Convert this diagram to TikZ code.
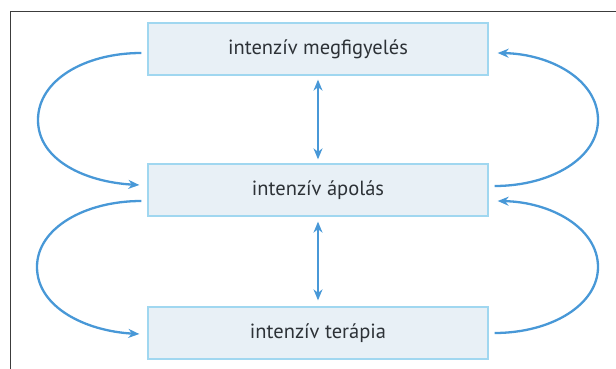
\documentclass[tikz,border=0pt]{standalone}
\usepackage{fontspec}
\setmainfont{PT Sans}
\usetikzlibrary{arrows.meta,calc}
\definecolor{boxfill}{RGB}{232,240,246}
\definecolor{boxline}{RGB}{160,215,240}
\definecolor{arrowblue}{RGB}{72,152,215}
\definecolor{textgrey}{RGB}{45,50,55}
\definecolor{framegrey}{RGB}{60,60,60}
\tikzset{
  stagebox/.style={draw=boxline, line width=1.3pt, fill=boxfill,
    minimum width=340pt, minimum height=52pt, inner sep=0pt,
    text=textgrey, font=\fontsize{20.5}{24}\selectfont},
  flow/.style={draw=arrowblue, line width=2.3pt,
    -{Stealth[length=11pt,width=9pt]}},
  biflow/.style={draw=arrowblue, line width=2.3pt,
    {Stealth[length=11pt,width=9pt]}-{Stealth[length=11pt,width=9pt]}}
}
\begin{document}
\begin{tikzpicture}[x=1pt,y=-1pt]
\useasboundingbox (0,0) rectangle (616,369);
\draw[framegrey, line width=1.5pt] (10.5,369) -- (10.5,11.7) -- (616,11.7);
\node[stagebox] (obs) at (318,49) {intenzív megfigyelés};
\node[stagebox] (care) at (318,190) {intenzív ápolás};
\node[stagebox] (ther) at (318,333) {intenzív terápia};
% vertical double arrows
\draw[biflow] ([yshift=-4pt]obs.south) -- ([yshift=4pt]care.north);
\draw[biflow] ([yshift=-5pt]care.south) -- ([yshift=6pt]ther.north);
% left loops
\draw[flow] ($(obs.west)+(-6,4)$) .. controls (85,53) and (38,80) .. (38,120)
  .. controls (38,160) and (85,182) .. ($(care.west)+(-8,-5)$);
\draw[flow] ($(care.west)+(-6,11)$) .. controls (85,201) and (37,228) .. (37,267)
  .. controls (37,307) and (85,331) .. ($(ther.west)+(-8,1)$);
% right loops
\draw[flow] ($(care.east)+(6,-4)$) .. controls (551,186) and (598,158) .. (598,120)
  .. controls (598,80) and (551,54) .. ($(obs.east)+(9,4)$);
\draw[flow] ($(ther.east)+(6,0)$) .. controls (551,333) and (598,305) .. (598,267)
  .. controls (598,228) and (551,202) .. ($(care.east)+(9,11)$);
\end{tikzpicture}
\end{document}
